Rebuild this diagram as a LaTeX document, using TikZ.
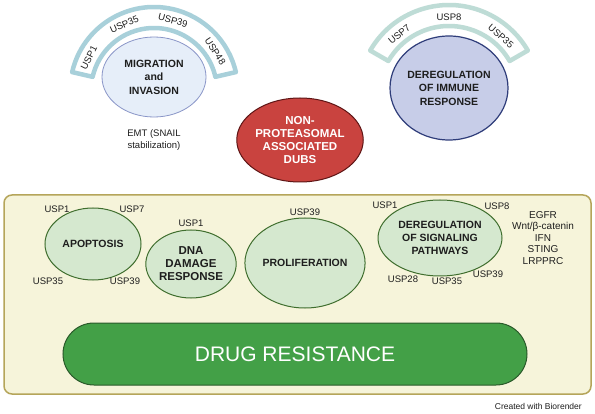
\documentclass[tikz,border=0pt]{standalone}
\usepackage{fontspec}
\setmainfont{Liberation Sans}
\usepackage{xcolor}
\definecolor{txtdark}{RGB}{30,30,30}
\definecolor{bandmig}{RGB}{168,208,218}
\definecolor{bandimm}{RGB}{190,220,214}
\definecolor{migfill}{RGB}{230,238,249}
\definecolor{migframe}{RGB}{138,150,200}
\definecolor{immfill}{RGB}{199,205,232}
\definecolor{immframe}{RGB}{47,61,122}
\definecolor{dubfill}{RGB}{201,67,63}
\definecolor{dubframe}{RGB}{94,21,21}
\definecolor{boxbg}{RGB}{246,244,218}
\definecolor{boxframe}{RGB}{181,165,90}
\definecolor{greenbg}{RGB}{213,232,207}
\definecolor{greenframe}{RGB}{63,110,46}
\definecolor{pillfill}{RGB}{67,160,71}
\definecolor{pillframe}{RGB}{42,90,42}
\usepackage{tikz}
\usetikzlibrary{shapes.geometric,positioning,calc}
\tikzset{
  dub_band/.style={draw=#1,line width=4.5pt,fill=white,line join=round},
  top_ell/.style={ellipse,draw=#1,line width=0.8pt,inner sep=0pt,
    align=center,font=\fontsize{10.5}{13.5}\selectfont\bfseries,text=txtdark},
  proc_ell/.style={ellipse,draw=greenframe,fill=greenbg,line width=1pt,
    inner sep=0pt,align=center,
    font=\fontsize{10.5}{13}\selectfont\bfseries,text=txtdark},
  usp/.style={font=\fontsize{9.5}{10}\selectfont,text=txtdark,inner sep=0pt},
  plain_txt/.style={font=\fontsize{9.5}{11.5}\selectfont,text=txtdark,
    align=center,inner sep=0pt},
}

\begin{document}
\begin{tikzpicture}[x=1pt,y=1pt]
  \useasboundingbox (0,0) rectangle (595,413);
  \fill[white] (0,0) rectangle (595,413);

  % upper part: the two DUB arcs with their processes
  \coordinate (migc) at (154,322);
  \coordinate (immc) at (449,317);
  \draw[dub_band=bandmig]
    ($(migc)+(167:84)$) arc[start angle=167,end angle=13,radius=84]
    -- ($(migc)+(13:63)$) arc[start angle=13,end angle=167,radius=63] -- cycle;
  \draw[dub_band=bandimm]
    ($(immc)+(150:91)$) arc[start angle=150,end angle=30,radius=91]
    -- ($(immc)+(30:70)$) arc[start angle=30,end angle=150,radius=70] -- cycle;

  \node (mig) [top_ell=migframe,fill=migfill,minimum width=104pt,
               minimum height=80pt] at (154,336)
    {MIGRATION\\and\\INVASION};
  \node (imm) [top_ell=immframe,fill=immfill,minimum width=118pt,
               minimum height=104pt,line width=1.2pt] at (449,325)
    {DEREGULATION\\OF IMMUNE\\RESPONSE};

  \foreach \ang/\lab [count=\i] in {153/USP1,114/USP35,75/USP39,33/USP48}
    \node (migusp\i) [usp,rotate=\ang-90] at ($(migc)+(\ang:73)$) {\lab};
  \foreach \ang/\lab [count=\i] in {129/USP7,90/USP8,49/USP35}
    \node (immusp\i) [usp,rotate=\ang-90] at ($(immc)+(\ang:79)$) {\lab};

  \node (emt) [plain_txt] at (154,273) {EMT (SNAIL\\stabilization)};

  \node (dub) [ellipse,draw=dubframe,fill=dubfill,line width=1pt,
               minimum width=124pt,minimum height=84pt,inner sep=0pt,
               align=center,text=white,
               font=\fontsize{11.5}{13.3}\selectfont\bfseries] at (300,273)
    {NON-\\PROTEASOMAL\\ASSOCIATED\\DUBS};

  % lower part: box with the processes leading to drug resistance
  \node (frame) [draw=boxframe,fill=boxbg,line width=1.5pt,rounded corners=8pt,
                 minimum width=587pt,minimum height=199pt,inner sep=0pt]
    at (297.5,118.5) {};

  \node (apo)  [proc_ell,minimum width=96pt,minimum height=72pt]  at (93,169)
    {APOPTOSIS};
  \node (dna)  [proc_ell,minimum width=82pt,minimum height=68pt,
                font=\fontsize{11.5}{13}\selectfont\bfseries] at (191,149)
    {DNA\\DAMAGE\\RESPONSE};
  \node (prol) [proc_ell,minimum width=120pt,minimum height=90pt] at (305,150)
    {PROLIFERATION};
  \node (sig)  [proc_ell,minimum width=124pt,minimum height=76pt] at (440,175)
    {DEREGULATION\\OF SIGNALING\\PATHWAYS};

  \node (apo1)  [usp] at (57,204)  {USP1};
  \node (apo7)  [usp] at (132,204) {USP7};
  \node (apo35) [usp] at (48,132)  {USP35};
  \node (apo39) [usp] at (125,132) {USP39};
  \node (dna1)  [usp] at (191,190) {USP1};
  \node (prol39)[usp] at (305,201) {USP39};
  \node (sig1)  [usp] at (385,208) {USP1};
  \node (sig8)  [usp] at (497,207) {USP8};
  \node (sig28) [usp] at (403,134) {USP28};
  \node (sig35) [usp] at (447,132) {USP35};
  \node (sig39) [usp] at (488,139) {USP39};

  \node (paths) [plain_txt,font=\fontsize{10}{11.5}\selectfont] at (543,175)
    {EGFR\\Wnt/β-catenin\\IFN\\STING\\LRPPRC};

  \node (drug) [draw=pillframe,fill=pillfill,line width=1pt,
                rounded corners=31pt,minimum width=464pt,minimum height=62pt,
                inner sep=0pt,text=white,font=\fontsize{21}{24}\selectfont]
    at (295,59) {DRUG RESISTANCE};

  \node (credit) [anchor=east,font=\fontsize{8.5}{10}\selectfont,text=txtdark,
                  inner sep=0pt] at (582,7) {Created with Biorender};
\end{tikzpicture}
\end{document}
